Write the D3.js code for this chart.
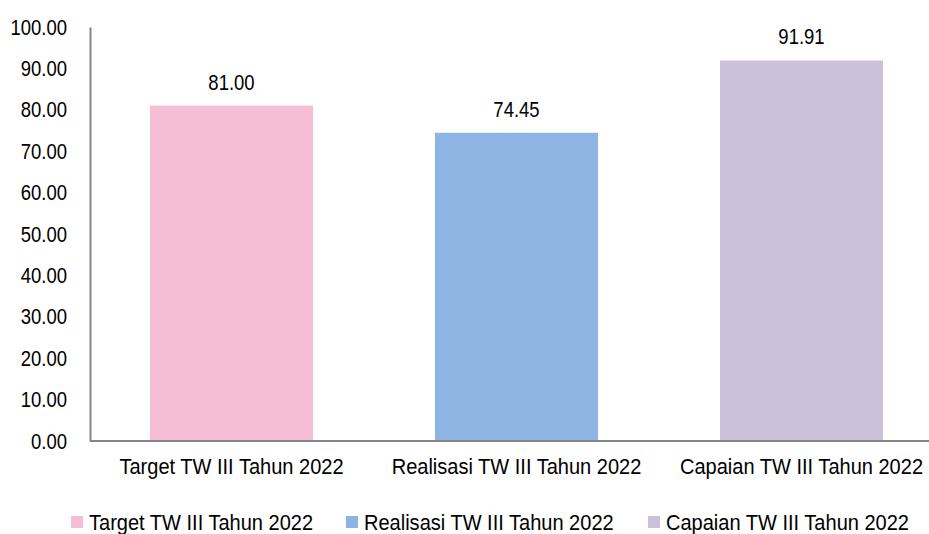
<!DOCTYPE html>
<html>
<head>
<meta charset="utf-8">
<script src="https://cdn.jsdelivr.net/npm/d3@7"></script>
<style>
  body { margin: 0; background: #fff; }
  text { font-family: "Liberation Sans", Arial, sans-serif; fill: #000; }
</style>
</head>
<body>
<div class="chart"></div>
<script>
const categories = ["Target TW III Tahun 2022", "Realisasi TW III Tahun 2022", "Capaian TW III Tahun 2022"];
const values = [81.00, 74.45, 91.91];
const colors = ["#f6bed4", "#8eb4e3", "#ccc1da"];
const yTicks = [0, 10, 20, 30, 40, 50, 60, 70, 80, 90, 100];

const w = 929, h = 534;
const plotTop = 27, plotBottom = 441, plotLeft = 90;
// squeeze text to look like Arial Narrow
const narrowNum = 0.84;
const narrowWord = 0.91;

const svg = d3.select(".chart").append("svg")
    .attr("width", w)
    .attr("height", h);

const x = d3.scaleBand()
    .domain(categories)
    .range([89, 944])
    .paddingInner(0.428)
    .paddingOuter(0.214);

const y = d3.scaleLinear()
    .domain([0, 100])
    .range([plotBottom, plotTop]);

// bars
svg.selectAll("rect.bar")
    .data(values)
    .enter()
    .append("rect")
    .attr("class", "bar")
    .attr("x", (d, i) => x(categories[i]))
    .attr("y", d => y(d))
    .attr("width", x.bandwidth())
    .attr("height", d => y(0) - y(d))
    .attr("fill", (d, i) => colors[i]);

// value labels
svg.selectAll("text.val")
    .data(values)
    .enter()
    .append("text")
    .attr("class", "val")
    .attr("x", (d, i) => x(categories[i]) + x.bandwidth() / 2)
    .attr("y", d => y(d) - 16)
    .attr("text-anchor", "middle")
    .style("font-size", "22px")
    .text(d => d.toFixed(2));

// y axis (no tick marks)
const yAxis = svg.append("g")
    .attr("transform", `translate(${plotLeft},0)`)
    .call(d3.axisLeft(y).tickValues(yTicks).tickSize(0).tickPadding(23).tickFormat(d => d.toFixed(2)));
yAxis.select(".domain").attr("stroke", "#868686").attr("stroke-width", 2);
yAxis.selectAll("text").style("font-size", "22px").attr("fill", "#000");

// x axis
const xAxis = svg.append("g")
    .attr("transform", `translate(0,${plotBottom})`)
    .call(d3.axisBottom(x).tickSize(0).tickPadding(17));
xAxis.select(".domain").attr("d", `M${plotLeft},0H${w}`).attr("stroke", "#868686").attr("stroke-width", 2);
xAxis.selectAll("text").style("font-size", "22px").attr("fill", "#000");

// legend
const legendX = [71, 346, 648];
const legend = svg.selectAll("g.legend")
    .data(categories)
    .enter()
    .append("g")
    .attr("class", "legend")
    .attr("transform", (d, i) => `translate(${legendX[i]},516)`);
legend.append("rect")
    .attr("width", 12)
    .attr("height", 12)
    .attr("fill", (d, i) => colors[i]);
legend.append("text")
    .attr("x", 18)
    .attr("y", 14)
    .style("font-size", "22px")
    .text(d => d);

svg.selectAll("text").each(function() {
    const len = this.getComputedTextLength();
    const k = /[a-z]/i.test(this.textContent) ? narrowWord : narrowNum;
    d3.select(this)
        .attr("textLength", len * k)
        .attr("lengthAdjust", "spacingAndGlyphs");
});
</script>
</body>
</html>
